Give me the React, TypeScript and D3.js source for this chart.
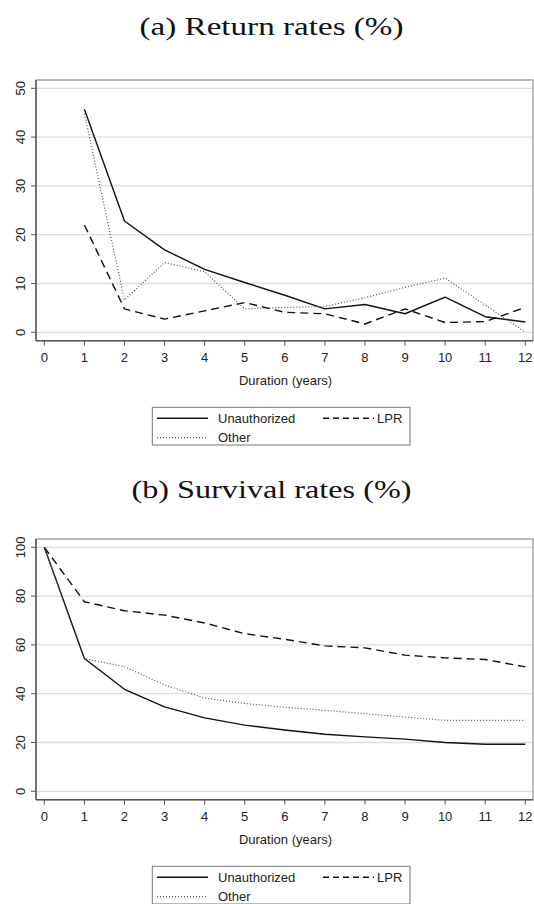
import React from 'react';
import * as d3 from 'd3';

// Duration in years
const yearsReturn = [1, 2, 3, 4, 5, 6, 7, 8, 9, 10, 11, 12];
const yearsSurvival = [0, 1, 2, 3, 4, 5, 6, 7, 8, 9, 10, 11, 12];

// (a) Return rates (%)
const returnUnauthorized = [45.7, 22.8, 16.9, 12.9, 10.2, 7.6, 4.8, 5.7, 3.8, 7.2, 3.2, 2.1];
const returnLPR = [22.0, 4.8, 2.7, 4.4, 6.1, 4.1, 3.8, 1.7, 4.8, 2.0, 2.2, 5.1];
const returnOther = [44.8, 6.6, 14.3, 12.4, 4.8, 5.1, 5.3, 7.1, 9.2, 11.1, 5.6, 0.0];

// (b) Survival rates (%)
const survivalUnauthorized = [100, 54.4, 41.8, 34.6, 30.1, 27.1, 25.1, 23.4, 22.3, 21.4, 20.0, 19.3, 19.3];
const survivalLPR = [100, 77.7, 74.0, 72.2, 69.0, 64.6, 62.3, 59.6, 58.8, 55.8, 54.7, 54.0, 51.0];
const survivalOther = [100, 54.4, 51.1, 43.6, 38.2, 36.0, 34.4, 33.2, 31.8, 30.4, 29.1, 29.1, 29.1];

const xTicks = [0, 1, 2, 3, 4, 5, 6, 7, 8, 9, 10, 11, 12];
const returnTicks = [0, 10, 20, 30, 40, 50];
const survivalTicks = [0, 20, 40, 60, 80, 100];

const W = 534;
const H = 904;
const SANS = '"Liberation Sans", Arial, sans-serif';
const SERIF = '"Liberation Serif", "DejaVu Serif", serif';

type Series = { name: string; values: number[]; dash: string; color: string; width: number };

type PanelProps = {
  top: number; // y offset of the plot box
  title: string;
  titleY: number;
  titleW: number;
  years: number[];
  series: Series[];
  yMax: number;
  yTicks: number[];
};

const Panel = ({ top, title, titleY, titleW, years, series, yMax, yTicks }: PanelProps) => {
  const box = { left: 36, right: 533, top: top, bottom: top + 260.7 };
  const x = d3.scaleLinear().domain([0, 12]).range([44.3, 525.3]);
  const y = d3.scaleLinear().domain([0, yMax]).range([box.bottom - 8.4, box.top + 8.3]);

  const line = d3
    .line<number>()
    .x((d, i) => x(years[i]))
    .y(d => y(d));

  const legTop = box.bottom + 66.6;
  const legLeft = 152.3;
  const row1 = legTop + 11;
  const row2 = legTop + 30.4;
  const legendItems = [
    { s: series[0], lx: 157, tx: 218, ly: row1 },
    { s: series[1], lx: 323, tx: 377, ly: row1 },
    { s: series[2], lx: 157, tx: 218, ly: row2 },
  ];

  return (
    <g>
      <text
        x={271.5}
        y={titleY}
        textAnchor="middle"
        fontFamily={SERIF}
        fontSize={26}
        textLength={titleW}
        lengthAdjust="spacingAndGlyphs"
        fill="#111"
      >
        {title}
      </text>

      {/* grid */}
      {yTicks.map(t => (
        <line key={'g' + t} x1={box.left} x2={box.right} y1={y(t)} y2={y(t)} stroke="#dedede" strokeWidth={1.3} />
      ))}

      {/* box */}
      <rect
        x={box.left}
        y={box.top}
        width={box.right - box.left}
        height={box.bottom - box.top}
        fill="none"
        stroke="#777"
        strokeWidth={1}
      />
      <line x1={box.left} x2={box.left} y1={box.top} y2={box.bottom} stroke="#555" strokeWidth={1.4} />
      <line x1={box.left} x2={box.right} y1={box.bottom} y2={box.bottom} stroke="#555" strokeWidth={1.4} />

      {/* y axis */}
      {yTicks.map(t => (
        <g key={'y' + t}>
          <line x1={box.left - 5} x2={box.left} y1={y(t)} y2={y(t)} stroke="#555" strokeWidth={1} />
          <text
            transform={`translate(${box.left - 11},${y(t)}) rotate(-90)`}
            textAnchor="middle"
            fontFamily={SANS}
            fontSize={13}
            fill="#222"
          >
            {t}
          </text>
        </g>
      ))}

      {/* x axis */}
      {xTicks.map(t => (
        <g key={'x' + t}>
          <line x1={x(t)} x2={x(t)} y1={box.bottom} y2={box.bottom + 5} stroke="#555" strokeWidth={1} />
          <text x={x(t)} y={box.bottom + 21} textAnchor="middle" fontFamily={SANS} fontSize={13} fill="#222">
            {t}
          </text>
        </g>
      ))}
      <text x={(box.left + box.right) / 2 + 1} y={box.bottom + 44} textAnchor="middle" fontFamily={SANS} fontSize={13} fill="#222">
        Duration (years)
      </text>

      {/* series */}
      {series.map(s => (
        <path
          key={s.name}
          d={line(s.values) || ''}
          fill="none"
          stroke={s.color}
          strokeWidth={s.width}
          strokeDasharray={s.dash}
          strokeLinejoin="round"
        />
      ))}

      {/* legend */}
      <rect x={legLeft} y={legTop} width={257.7} height={37.7} fill="#fff" stroke="#777" strokeWidth={1} />
      {legendItems.map(({ s, lx, tx, ly }) => (
        <g key={'l' + s.name}>
          <line
            x1={lx}
            x2={lx + 51}
            y1={ly}
            y2={ly}
            stroke={s.color}
            strokeWidth={s.width}
            strokeDasharray={s.dash === 'none' ? 'none' : s.dash === '1,2' ? '1,2' : '6,4'}
          />
          <text x={tx} y={ly + 4.5} fontFamily={SANS} fontSize={13} fill="#222">
            {s.name}
          </text>
        </g>
      ))}
    </g>
  );
};

const makeSeries = (u: number[], l: number[], o: number[]): Series[] => [
  { name: 'Unauthorized', values: u, dash: 'none', color: '#111', width: 1.4 },
  { name: 'LPR', values: l, dash: '8,5', color: '#111', width: 1.4 },
  { name: 'Other', values: o, dash: '1,2', color: '#555', width: 1.2 },
];

const App = () => (
  <svg
    width={W}
    height={H}
    viewBox={`0 0 ${W} ${H}`}
    style={{ position: 'absolute', left: 0, top: 0, background: '#fff' }}
  >
    <rect width={W} height={H} fill="#fff" />
    <Panel
      top={80}
      title="(a) Return rates (%)"
      titleY={35}
      titleW={264}
      years={yearsReturn}
      series={makeSeries(returnUnauthorized, returnLPR, returnOther)}
      yMax={50}
      yTicks={returnTicks}
    />
    <Panel
      top={539}
      title="(b) Survival rates (%)"
      titleY={498}
      titleW={280}
      years={yearsSurvival}
      series={makeSeries(survivalUnauthorized, survivalLPR, survivalOther)}
      yMax={100}
      yTicks={survivalTicks}
    />
  </svg>
);

export default App;
